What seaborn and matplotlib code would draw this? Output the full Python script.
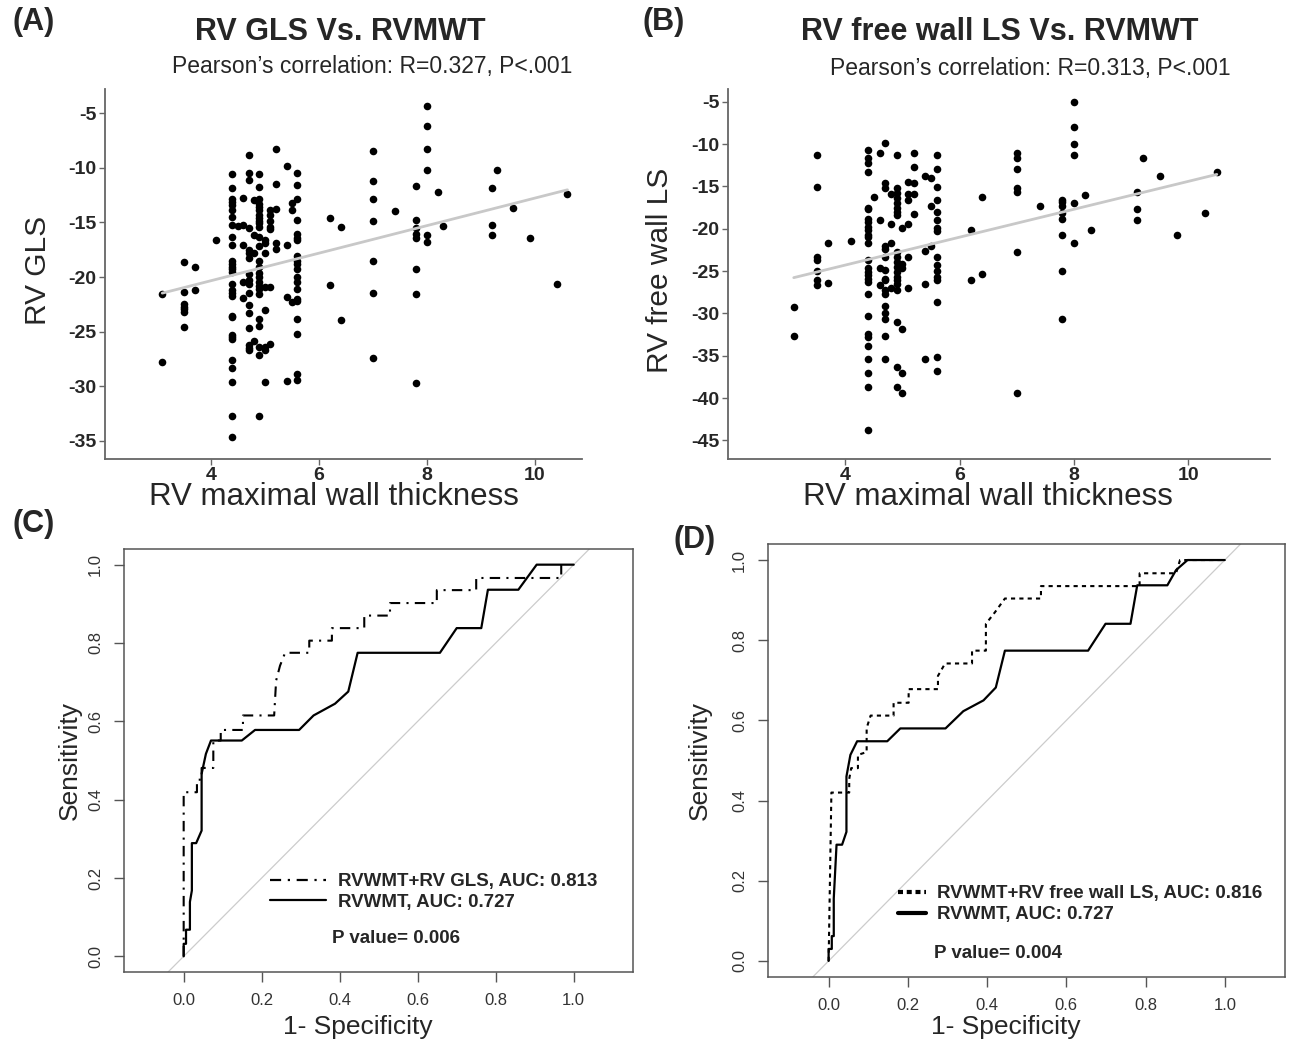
import pandas as pd
import seaborn as sns
import matplotlib.pyplot as plt

sns.set_theme(style="ticks")
plt.rcParams['font.family'] = ['Liberation Sans', 'DejaVu Sans']
plt.rcParams['axes.unicode_minus'] = False

# ---- (A) RV GLS vs RV maximal wall thickness: one list of y values per x column
a_thick = [3.1, 3.5, 3.7, 4.1, 4.4, 4.5, 4.6, 4.7, 4.8, 4.9, 5.0, 5.1, 5.2, 5.4, 5.5, 5.6,
           6.2, 6.4, 7.0, 7.4, 7.8, 8.0, 8.2, 8.3, 9.2, 9.3, 9.6, 9.9, 10.4, 10.6]
a_gls = [
    [-21.6, -27.8],
    [-18.6, -21.4, -22.5, -22.7, -22.9, -23.2, -24.6],
    [-19.1, -21.2],
    [-16.6],
    [-10.6, -11.9, -12.9, -13.1, -13.4, -13.9, -14.5, -15.2, -16.3, -17.1, -18.5, -18.8, -19.1, -19.3,
     -19.5, -20.6, -21.2, -21.5, -21.7, -23.6, -23.7, -25.3, -25.5, -25.7, -27.6, -28.3, -29.6, -32.7, -34.6],
    [-15.3],
    [-12.8, -15.2, -17.1, -20.5, -21.9],
    [-8.8, -10.5, -11.1, -15.5, -17.5, -17.8, -18.3, -19.7, -20.3, -20.6, -21.5, -22.6, -23.3, -24.7,
     -26.2, -26.5, -26.7],
    [-13.0, -16.2, -17.8, -25.9],
    [-10.6, -11.8, -12.9, -13.3, -13.6, -13.9, -14.3, -14.6, -14.9, -15.1, -15.4, -16.3, -17.2, -18.5,
     -19.1, -19.6, -20.0, -20.5, -20.8, -21.1, -21.6, -23.8, -24.5, -26.4, -27.1, -32.7],
    [-16.6, -16.9, -17.8, -20.9, -23.0, -26.4, -26.7, -29.6],
    [-13.9, -14.3, -14.9, -15.4, -15.6, -20.9, -26.1],
    [-8.3, -11.5, -13.8, -16.9, -17.4],
    [-9.8, -17.1, -21.8, -29.5],
    [-13.2, -13.9, -22.3],
    [-10.5, -11.6, -12.9, -14.8, -16.1, -16.4, -16.6, -18.1, -18.5, -18.8, -19.3, -20.0, -20.5, -21.1,
     -22.0, -22.2, -23.8, -25.2, -28.9, -29.4],
    [-14.6, -20.7],
    [-15.4, -23.9],
    [-8.5, -11.2, -12.9, -14.9, -18.5, -21.5, -27.4],
    [-14.0],
    [-11.7, -14.8, -15.5, -16.1, -16.4, -19.3, -21.6, -29.7],
    [-4.4, -6.2, -8.3, -10.2, -16.2, -16.8],
    [-12.2],
    [-15.3],
    [-11.9, -15.2, -16.2],
    [-10.2],
    [-13.7],
    [-16.4],
    [-20.6],
    [-12.4],
]

# ---- (B) RV free wall LS vs RV maximal wall thickness
b_thick = [3.1, 3.5, 3.7, 4.1, 4.4, 4.5, 4.6, 4.7, 4.8, 4.9, 5.0, 5.1, 5.2, 5.4, 5.5, 5.6,
           6.2, 6.4, 7.0, 7.4, 7.8, 8.0, 8.2, 8.3, 9.1, 9.2, 9.5, 9.8, 10.3, 10.5]
b_fwls = [
    [-29.3, -32.7],
    [-11.3, -15.1, -23.3, -23.7, -25.0, -26.1, -26.7],
    [-21.7, -26.4],
    [-21.4],
    [-10.7, -11.7, -12.2, -13.3, -17.5, -17.7, -18.8, -19.2, -19.8, -20.1, -20.7, -21.0, -21.7, -23.7,
     -24.7, -25.1, -25.5, -25.9, -26.3, -27.7, -30.3, -32.4, -32.8, -33.8, -35.4, -37.0, -38.7, -43.8],
    [-16.3],
    [-11.0, -19.0, -24.7, -26.7],
    [-9.9, -14.6, -15.2, -22.0, -22.4, -23.3, -24.9, -25.9, -26.1, -27.2, -27.7, -29.1, -30.0, -30.7,
     -32.7, -35.4],
    [-15.9, -19.4, -21.7, -27.0],
    [-11.3, -15.2, -15.8, -16.4, -17.0, -17.6, -18.0, -18.4, -22.7, -23.3, -23.9, -24.5, -25.1, -25.7,
     -26.1, -26.5, -27.2, -31.0, -36.3, -38.7],
    [-19.9, -24.2, -24.7, -31.8, -37.0, -39.4],
    [-14.5, -15.9, -16.6, -19.4, -23.3, -27.0],
    [-11.0, -12.7, -14.6, -15.9, -18.3],
    [-13.8, -22.6, -26.5, -35.4],
    [-14.0, -17.3, -22.0],
    [-11.3, -13.0, -15.1, -16.6, -18.0, -19.0, -19.9, -20.3, -23.3, -24.3, -25.0, -25.7, -26.0, -28.7,
     -35.1, -36.8],
    [-20.1, -26.1],
    [-16.3, -25.4],
    [-11.0, -11.7, -13.0, -15.2, -15.7, -22.8, -39.4],
    [-17.3],
    [-16.6, -16.9, -17.3, -18.1, -18.8, -20.7, -25.0, -30.7],
    [-5.0, -8.0, -10.0, -11.3, -17.0, -21.7],
    [-16.0],
    [-20.1],
    [-15.7, -17.7, -19.0],
    [-11.7],
    [-13.8],
    [-20.8],
    [-18.1],
    [-13.3],
]

# ---- (C) ROC: RVWMT+RV GLS and RVWMT
c_comb_fpr = [0.0, 0.0, 0.034, 0.034, 0.046, 0.046, 0.076, 0.076, 0.095, 0.095, 0.152, 0.152, 0.232,
              0.237, 0.247, 0.260, 0.322, 0.322, 0.380, 0.380, 0.463, 0.463, 0.529, 0.529, 0.649,
              0.649, 0.750, 0.750, 0.968, 0.968]
c_comb_tpr = [0.0, 0.419, 0.419, 0.451, 0.451, 0.481, 0.481, 0.551, 0.551, 0.578, 0.578, 0.615, 0.615,
              0.704, 0.742, 0.775, 0.775, 0.806, 0.806, 0.838, 0.838, 0.870, 0.870, 0.902, 0.902,
              0.935, 0.935, 0.966, 0.966, 1.0]
c_wmt_fpr = [0.0, 0.0, 0.006, 0.006, 0.016, 0.016, 0.021, 0.021, 0.032, 0.046, 0.046, 0.057, 0.070,
             0.149, 0.183, 0.296, 0.333, 0.388, 0.422, 0.446, 0.657, 0.700, 0.763, 0.780, 0.858,
             0.905, 1.0]
c_wmt_tpr = [0.0, 0.032, 0.032, 0.068, 0.068, 0.139, 0.168, 0.289, 0.289, 0.321, 0.466, 0.517, 0.551,
             0.551, 0.578, 0.578, 0.615, 0.645, 0.676, 0.775, 0.775, 0.838, 0.838, 0.936, 0.936,
             1.0, 1.0]

# ---- (D) ROC: RVWMT+RV free wall LS and RVWMT
d_comb_fpr = [0.0, 0.007, 0.052, 0.052, 0.057, 0.074, 0.074, 0.096, 0.096, 0.106, 0.164, 0.164, 0.202,
              0.202, 0.276, 0.276, 0.294, 0.362, 0.362, 0.397, 0.397, 0.420, 0.445, 0.536, 0.536,
              0.785, 0.785, 0.877, 0.887, 1.0]
d_comb_tpr = [0.0, 0.420, 0.420, 0.454, 0.481, 0.481, 0.514, 0.521, 0.581, 0.612, 0.612, 0.644, 0.644,
              0.678, 0.678, 0.711, 0.742, 0.742, 0.774, 0.774, 0.841, 0.870, 0.904, 0.904, 0.935,
              0.935, 0.967, 0.967, 1.0, 1.0]
d_wmt_fpr = [0.0, 0.0, 0.008, 0.008, 0.013, 0.013, 0.020, 0.034, 0.045, 0.045, 0.055, 0.072, 0.148,
             0.181, 0.295, 0.340, 0.391, 0.422, 0.445, 0.655, 0.699, 0.762, 0.779, 0.855, 0.877,
             0.906, 1.0]
d_wmt_tpr = [0.0, 0.030, 0.030, 0.062, 0.062, 0.156, 0.290, 0.290, 0.322, 0.460, 0.514, 0.548, 0.548,
             0.580, 0.580, 0.623, 0.650, 0.682, 0.774, 0.774, 0.841, 0.841, 0.937, 0.937, 0.975,
             1.0, 1.0]

chance_x = [-0.04, 1.04]
chance_y = [-0.04, 1.04]
roc_ticks = [0.0, 0.2, 0.4, 0.6, 0.8, 1.0]
roc_tick_labels = ['0.0', '0.2', '0.4', '0.6', '0.8', '1.0']


def to_frame(levels, groups):
    xs, ys = [], []
    for lv, g in zip(levels, groups):
        xs += [lv] * len(g)
        ys += g
    return pd.DataFrame({'thick': xs, 'strain': ys})


W, H = 1290, 1042
fig = plt.figure(figsize=(W / 100, H / 100), dpi=100)


def box(left, top, right, bottom):
    return [left / W, 1 - bottom / H, (right - left) / W, (bottom - top) / H]


def scatter_panel(ax, df, xlim, ylim, yticks, ylabel, ylab_x):
    sns.scatterplot(data=df, x='thick', y='strain', ax=ax, color='black', s=30, linewidth=0)
    sns.regplot(data=df, x='thick', y='strain', ax=ax, scatter=False, ci=None, truncate=True,
                line_kws=dict(color='#c8c8c8', lw=2))
    ax.set_xlim(xlim)
    ax.set_ylim(ylim)
    ax.set_xticks([4, 6, 8, 10])
    ax.set_yticks(yticks)
    for s in ['top', 'right']:
        ax.spines[s].set_visible(False)
    for s in ['left', 'bottom']:
        ax.spines[s].set_color('#666666')
        ax.spines[s].set_linewidth(1.3)
    ax.tick_params(direction='out', length=4, width=1, color='#666666', labelsize=14, pad=2)
    for lbl in ax.get_xticklabels() + ax.get_yticklabels():
        lbl.set_fontweight('bold')
    ax.set_xlabel('RV maximal wall thickness', fontsize=22.5)
    ax.set_ylabel(ylabel, fontsize=21.5)
    ax.xaxis.label.set_va('center')
    ax.yaxis.label.set_va('center')
    ax.xaxis.set_label_coords(0.48, -0.103)
    ax.yaxis.set_label_coords(ylab_x, 0.51)


def roc_panel(ax, comb, wmt, comb_label, comb_style, handlelen, leg_anchor, p_text, p_pos,
              xlab_y, ylab_x, leg_lw, leg_style):
    sns.lineplot(x=chance_x, y=chance_y, ax=ax, color='#cccccc', lw=0.9, sort=False, estimator=None)
    sns.lineplot(x=comb[0], y=comb[1], ax=ax, color='black', lw=1.5, sort=False, estimator=None,
                 linestyle=comb_style, label=comb_label)
    sns.lineplot(x=wmt[0], y=wmt[1], ax=ax, color='black', lw=1.6, sort=False, estimator=None,
                 label='RVWMT, AUC: 0.727')
    ax.set_xlim(-0.153, 1.152)
    ax.set_ylim(-0.04, 1.04)
    ax.set_xticks(roc_ticks)
    ax.set_xticklabels(roc_tick_labels)
    ax.set_yticks(roc_ticks)
    ax.set_yticklabels(roc_tick_labels, rotation=90, va='center')
    for s in ax.spines.values():
        s.set_color('#555555')
        s.set_linewidth(1.1)
    ax.tick_params(direction='out', length=7, width=1, color='#555555', labelsize=12,
                   labelcolor='#333333', pad=8)
    leg = ax.legend(loc='upper left', bbox_to_anchor=leg_anchor, frameon=False, borderpad=0,
                    borderaxespad=0, handlelength=handlelen, handletextpad=0.6, labelspacing=0.2,
                    prop={'weight': 'bold', 'size': 13.5})
    for ln in leg.get_lines():
        ln.set_linewidth(leg_lw)
    leg.get_lines()[0].set_linestyle(leg_style)
    ax.text(p_pos[0], p_pos[1], p_text, transform=ax.transAxes, fontsize=13.5, fontweight='bold',
            ha='left', va='center')
    ax.set_xlabel('1- Specificity', fontsize=19)
    ax.set_ylabel('Sensitivity', fontsize=19)
    ax.xaxis.label.set_va('center')
    ax.yaxis.label.set_va('center')
    ax.xaxis.set_label_coords(0.46, xlab_y)
    ax.yaxis.set_label_coords(ylab_x, 0.5)


ax_a = fig.add_axes(box(105, 89, 582, 459))
scatter_panel(ax_a, to_frame(a_thick, a_gls), (2.04, 10.87), (-36.65, -2.8),
              [-5, -10, -15, -20, -25, -30, -35], 'RV GLS', -0.14)

ax_b = fig.add_axes(box(728, 89, 1270, 459))
scatter_panel(ax_b, to_frame(b_thick, b_fwls), (1.95, 11.43), (-47.2, -3.5),
              [-5, -10, -15, -20, -25, -30, -35, -40, -45], 'RV free wall LS', -0.125)

ax_c = fig.add_axes(box(124, 549, 633, 972))
roc_panel(ax_c, (c_comb_fpr, c_comb_tpr), (c_wmt_fpr, c_wmt_tpr), 'RVWMT+RV GLS, AUC: 0.813',
          (0, (5, 3, 1, 3)), 3.0, (0.287, 0.234), 'P value= 0.006', (0.409, 0.080),
          -0.13, -0.106, 1.6, (0, (5, 3, 1, 3)))

ax_d = fig.add_axes(box(768, 544, 1285, 977))
roc_panel(ax_d, (d_comb_fpr, d_comb_tpr), (d_wmt_fpr, d_wmt_tpr), 'RVWMT+RV free wall LS, AUC: 0.816',
          (0, (2, 2)), 1.5, (0.251, 0.212), 'P value= 0.004', (0.321, 0.055),
          -0.115, -0.132, 3.0, (0, (1.2, 0.9)))

# panel letters and titles
for letter, x, y in [('(A)', 34, 22), ('(B)', 664, 22), ('(C)', 34, 524), ('(D)', 695, 540)]:
    fig.text(x / W, 1 - y / H, letter, fontsize=22, fontweight='bold', ha='center', va='center')
fig.text(340 / W, 1 - 32 / H, 'RV GLS Vs. RVMWT', fontsize=22, fontweight='bold',
         ha='center', va='center')
fig.text(1000 / W, 1 - 32 / H, 'RV free wall LS Vs. RVMWT', fontsize=22, fontweight='bold',
         ha='center', va='center')
fig.text(372 / W, 1 - 66 / H, 'Pearson\u2019s correlation: R=0.327, P<.001', fontsize=16.5,
         ha='center', va='center')
fig.text(1030 / W, 1 - 68 / H, 'Pearson\u2019s correlation: R=0.313, P<.001', fontsize=16.5,
         ha='center', va='center')

fig.savefig('out.png', dpi=100)
